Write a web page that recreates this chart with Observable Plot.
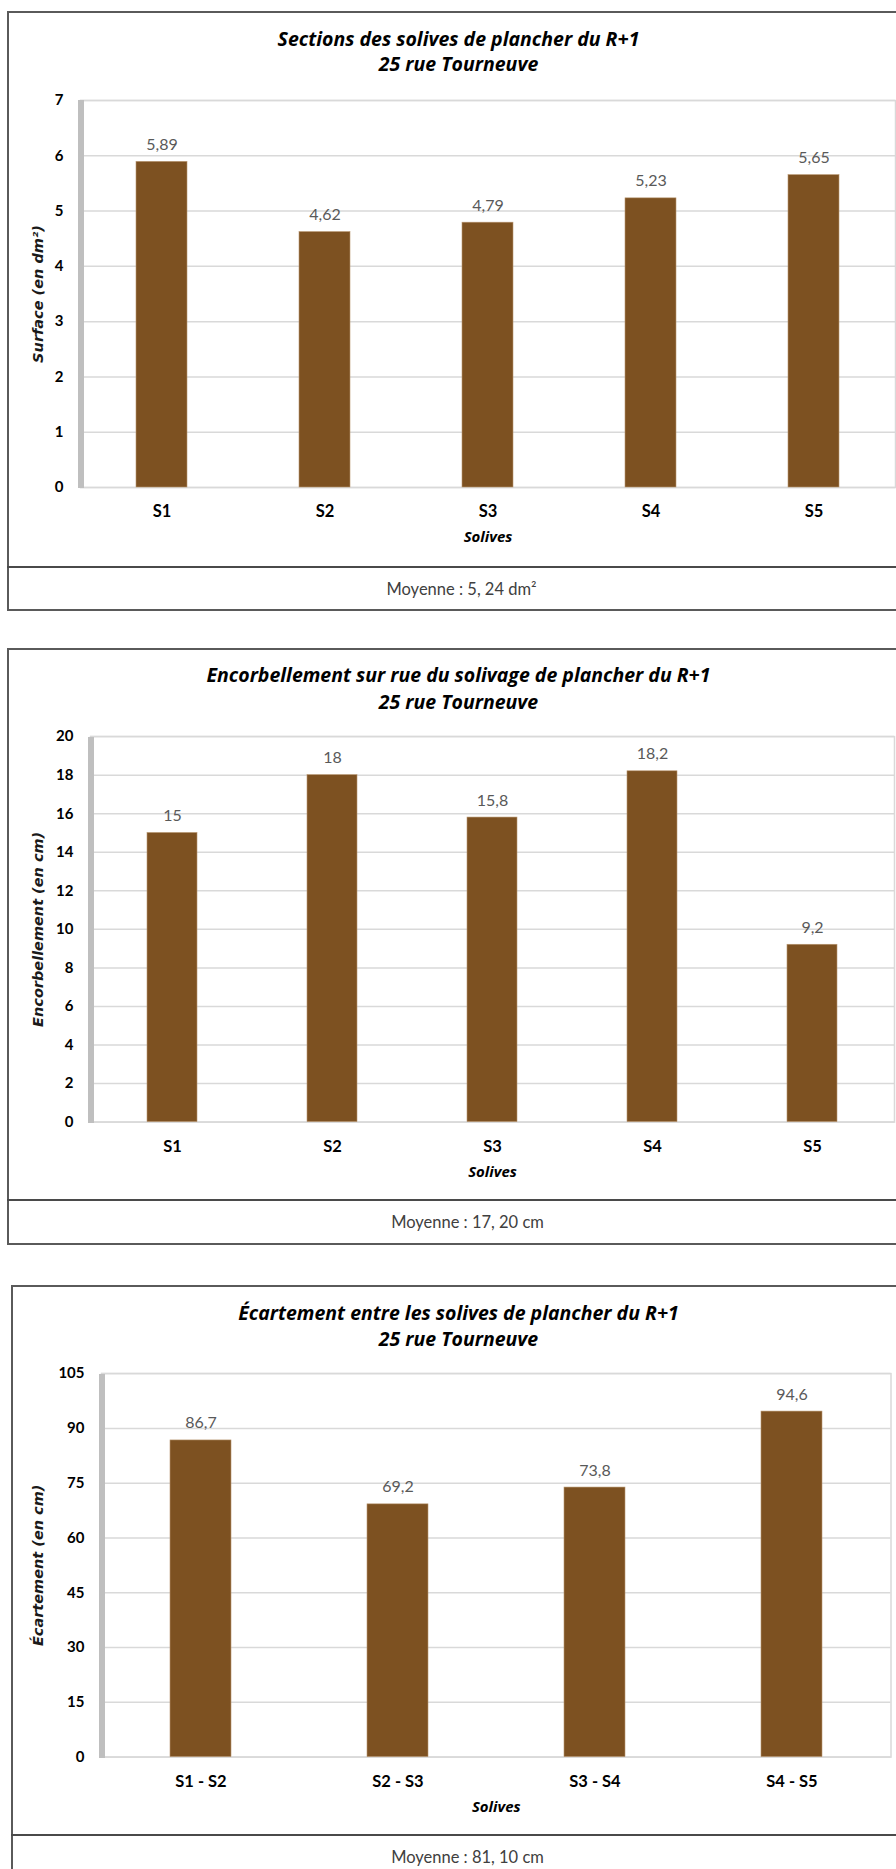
<!DOCTYPE html>
<html><head><meta charset="utf-8">
<script src="https://cdn.jsdelivr.net/npm/d3@7"></script>
<script src="https://cdn.jsdelivr.net/npm/@observablehq/plot@0.6"></script>
<style>
html,body{margin:0;padding:0;background:#fff;}
body{width:896px;height:1869px;overflow:hidden;position:relative;font-family:Lato,sans-serif;}
.box{position:absolute;border:2px solid #5a5a5a;box-sizing:border-box;pointer-events:none;}
.sep{position:absolute;border-top:2px solid #4a4a4a;height:0;pointer-events:none;}
.wall{position:absolute;background:#bfbfbf;pointer-events:none;}
</style></head><body>
<script>
// ---- data ----
const solives = ["S1", "S2", "S3", "S4", "S5"];
const sections = [5.89, 4.62, 4.79, 5.23, 5.65];
const encorbellement = [15, 18, 15.8, 18.2, 9.2];
const intervalles = ["S1 - S2", "S2 - S3", "S3 - S4", "S4 - S5"];
const ecartement = [86.7, 69.2, 73.8, 94.6];
const ticksSections = [0, 1, 2, 3, 4, 5, 6, 7];
const ticksEncorbellement = [0, 2, 4, 6, 8, 10, 12, 14, 16, 18, 20];
const ticksEcartement = [0, 15, 30, 45, 60, 75, 90, 105];
const titres1 = ["Sections des solives de plancher du R+1", "Encorbellement sur rue du solivage de plancher du R+1", "Écartement entre les solives de plancher du R+1"];
const titre2 = "25 rue Tourneuve";
const yLabels = ["Surface (en dm²)", "Encorbellement (en cm)", "Écartement (en cm)"];
const xLabel = "Solives";
const moyennes = ["Moyenne : 5, 24 dm²", "Moyenne : 17, 20 cm", "Moyenne : 81, 10 cm"];

// ---- layout ----
const layouts = [
  {boxLeft: 8, boxTop: 12, boxBottom: 610, sep: 566.7, plotTop: 100, plotBottom: 487, left: 80, right: 895, t1: 45.7, t2: 70.7, foot: 461},
  {boxLeft: 8, boxTop: 649.4, boxBottom: 1244.5, sep: 1200.4, plotTop: 736.5, plotBottom: 1122, left: 90, right: 894, t1: 681.7, t2: 709.3, foot: 467},
  {boxLeft: 12, boxTop: 1286.4, boxBottom: 1880, sep: 1835, plotTop: 1373.5, plotBottom: 1757, left: 101, right: 890.5, t1: 1319.5, t2: 1346, foot: 467}
];

const fmt = v => String(v).replace(".", ",");

function drawChart(cats, values, ticks, idx) {
  const L = layouts[idx];
  const data = cats.map((c, i) => ({c, v: values[i]}));
  const frameCenter = (L.left + L.right) / 2;
  const titleFont = {fontFamily: "'Open Sans', sans-serif", fontWeight: "bold", fontStyle: "italic", fontSize: 19.5, fill: "#000", lineAnchor: "bottom"};
  const svg = Plot.plot({
    width: 896,
    height: L.boxBottom - L.boxTop,
    marginTop: L.plotTop - L.boxTop,
    marginBottom: L.boxBottom - L.plotBottom,
    marginLeft: L.left,
    marginRight: 896 - L.right,
    style: {fontFamily: "Lato, sans-serif", background: "transparent", overflow: "visible"},
    x: {domain: cats, paddingInner: 0.69, paddingOuter: 0.345, axis: null},
    y: {domain: [0, ticks[ticks.length - 1]], axis: null},
    marks: [
      Plot.ruleY(ticks, {stroke: "#d9d9d9", strokeWidth: 1.5}),
      Plot.frame({stroke: "#d9d9d9", strokeWidth: 1.5}),
      Plot.barY(data, {x: "c", y: "v", fill: "#7d5121", stroke: "#b89670", strokeWidth: 0.6}),
      Plot.text(data, {x: "c", y: "v", text: d => fmt(d.v), dy: -12, lineAnchor: "bottom", fill: "#595959", fontSize: 16}),
      Plot.axisY({ticks, tickFormat: d => fmt(d), tickSize: 0, tickPadding: 17, fontSize: 15, fontWeight: "bold", label: null}),
      Plot.axisX({tickSize: 0, tickPadding: 18, fontSize: 16.5, fontWeight: "bold", label: null}),
      Plot.text([yLabels[idx]], {frameAnchor: "left", dx: 38 - L.left, rotate: -90, textAnchor: "middle", fontFamily: "'DejaVu Sans', sans-serif", fontWeight: "bold", fontStyle: "italic", fontSize: 14.5, fill: "#1a1a1a"}),
      Plot.text([xLabel], {frameAnchor: "bottom", dy: 54.7, lineAnchor: "bottom", fontFamily: "'Open Sans', sans-serif", fontWeight: "bold", fontStyle: "italic", fontSize: 15, fill: "#000"}),
      Plot.text([titres1[idx]], {frameAnchor: "top", dx: 458 - frameCenter, dy: L.t1 - L.plotTop, ...titleFont}),
      Plot.text([titre2], {frameAnchor: "top", dx: 458 - frameCenter, dy: L.t2 - L.plotTop, ...titleFont}),
      Plot.text([moyennes[idx]], {frameAnchor: "bottom", dx: L.foot - frameCenter, dy: L.sep + 28 - L.plotBottom, lineAnchor: "bottom", fontSize: 16.5, fill: "#404040"})
    ]
  });
  svg.style.position = "absolute";
  svg.style.left = "0px";
  svg.style.top = L.boxTop + "px";
  document.body.appendChild(svg);

  const wall = document.createElement("div");
  wall.className = "wall";
  Object.assign(wall.style, {left: (L.left - 2.5) + "px", top: L.plotTop + "px", width: "6.5px", height: (L.plotBottom - L.plotTop + 1) + "px"});
  document.body.appendChild(wall);

  const box = document.createElement("div");
  box.className = "box";
  Object.assign(box.style, {left: (L.boxLeft - 1) + "px", top: (L.boxTop - 1) + "px", width: "930px", height: (L.boxBottom - L.boxTop + 2) + "px"});
  document.body.appendChild(box);

  const sep = document.createElement("div");
  sep.className = "sep";
  Object.assign(sep.style, {left: (L.boxLeft - 1) + "px", top: (L.sep - 1) + "px", width: "930px"});
  document.body.appendChild(sep);
}

drawChart(solives, sections, ticksSections, 0);
drawChart(solives, encorbellement, ticksEncorbellement, 1);
drawChart(intervalles, ecartement, ticksEcartement, 2);
</script>
</body></html>
